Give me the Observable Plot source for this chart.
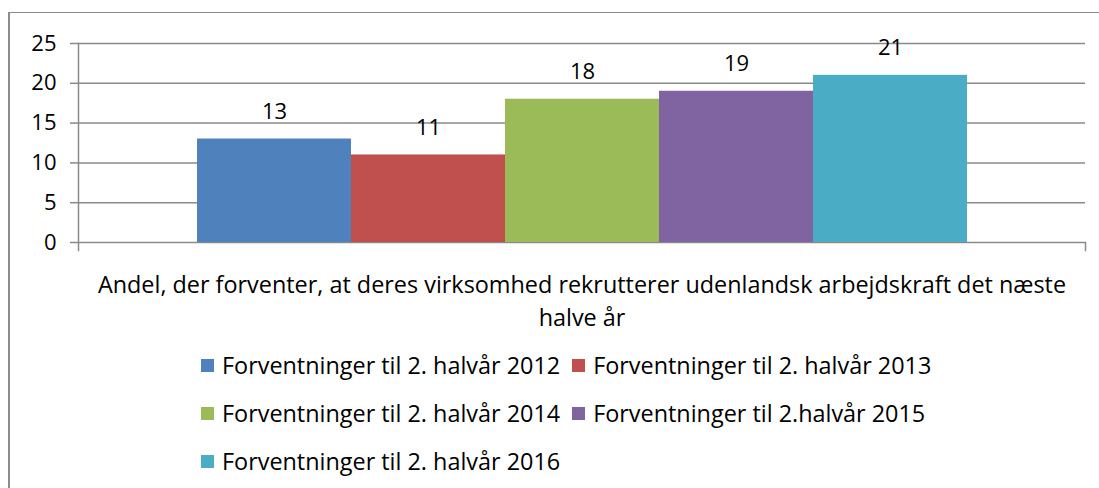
<!DOCTYPE html>
<html>
<head>
<meta charset="utf-8">
<script src="https://cdn.jsdelivr.net/npm/d3@7"></script>
<script src="https://cdn.jsdelivr.net/npm/@observablehq/plot@0.6"></script>
<style>
  html, body { margin: 0; padding: 0; background: #fff; overflow: hidden; }
  #wrap { position: relative; width: 1099px; height: 488px; font-family: "Open Sans", sans-serif; }
  #box { position: absolute; left: 8px; top: 12px; width: 1200px; height: 600px;
         border-left: 2px solid #8c8c8c; border-top: 1.5px solid #8c8c8c; box-sizing: border-box; }
  #chart { position: absolute; left: 0; top: 0; }
  #legend { position: absolute; left: 201px; top: 341px; display: grid;
            grid-template-columns: auto auto; column-gap: 12px; font-size: 23.4px; color: #000; }
  .item { display: flex; align-items: center; height: 48px; white-space: nowrap; }
  .sw { width: 13px; height: 13px; margin-right: 8px; flex: none; }
</style>
</head>
<body>
<div id="wrap">
  <div id="box"></div>
  <div id="chart"></div>
  <div id="legend"></div>
</div>
<script>
const category = "Andel, der forventer, at deres virksomhed rekrutterer udenlandsk arbejdskraft det næste halve år";
const series = [
  "Forventninger til 2. halvår 2012",
  "Forventninger til 2. halvår 2013",
  "Forventninger til 2. halvår 2014",
  "Forventninger til 2.halvår 2015",
  "Forventninger til 2. halvår 2016"
];
const values = [13, 11, 18, 19, 21];
const colors = ["#4F81BD", "#C0504D", "#9BBB59", "#8064A2", "#4BACC6"];
const yTicks = [0, 5, 10, 15, 20, 25];

const data = series.map((s, i) => ({category, series: s, value: values[i]}));
const gridColor = "#8a8a8a";
const font = "Open Sans";

const chart = Plot.plot({
  width: 1099,
  height: 342,
  marginLeft: 78,
  marginRight: 14,
  marginTop: 43,
  marginBottom: 100,
  style: {fontFamily: font, background: "transparent", color: "#000"},
  fx: {domain: [category], padding: 0, label: null},
  x: {domain: series, paddingInner: 0, paddingOuter: 0.75, axis: null},
  y: {domain: [0, 25], label: null},
  color: {domain: series, range: colors},
  marks: [
    Plot.ruleY(yTicks, {stroke: gridColor, strokeWidth: 1.5}),
    Plot.frame({anchor: "left", stroke: gridColor, strokeWidth: 1.5, insetBottom: -8}),
    Plot.frame({anchor: "right", stroke: gridColor, strokeWidth: 1.5, insetTop: 199, insetBottom: -8}),
    Plot.barY(data, {fx: "category", x: "series", y: "value", fill: "series"}),
    Plot.text(data, {fx: "category", x: "series", y: "value", text: d => String(d.value),
                     dy: -27, fontSize: 22, fill: "#000"}),
    Plot.axisY({ticks: yTicks, tickSize: 8, tickPadding: 14, fontSize: 22, color: "#000",
                stroke: gridColor, strokeWidth: 1.5, label: null}),
    Plot.axisFx({anchor: "bottom", tickSize: 0, tickPadding: 27, fontSize: 23.4, lineHeight: 1.41,
                 label: null, color: "#000",
                 tickFormat: d => d.replace(" halve år", "\nhalve år")})
  ]
});
document.getElementById("chart").appendChild(chart);

const legend = document.getElementById("legend");
series.forEach((s, i) => {
  const item = document.createElement("div");
  item.className = "item";
  const sw = document.createElement("span");
  sw.className = "sw";
  sw.style.background = colors[i];
  const t = document.createElement("span");
  t.textContent = s;
  item.appendChild(sw);
  item.appendChild(t);
  legend.appendChild(item);
});
</script>
</body>
</html>
